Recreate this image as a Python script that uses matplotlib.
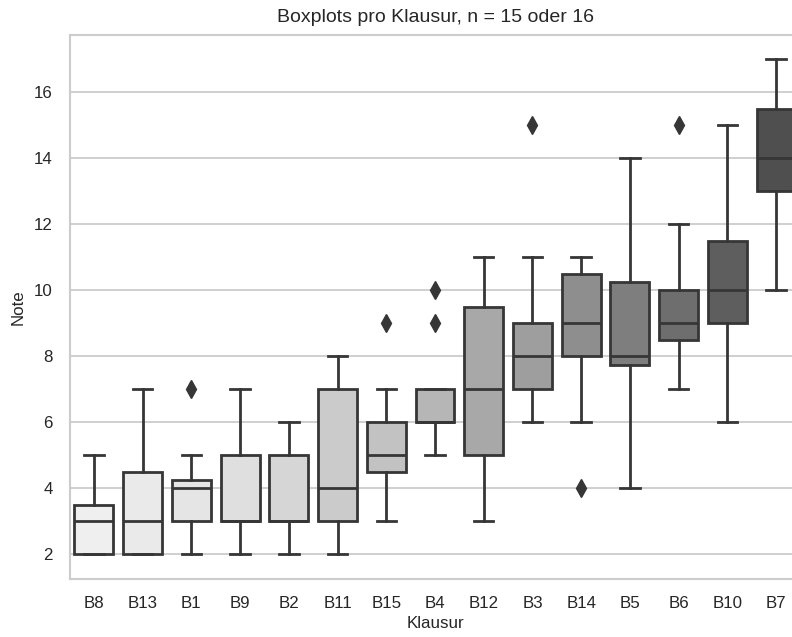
import numpy as np
import matplotlib.pyplot as plt

plt.rcParams['font.family'] = ['Liberation Sans', 'DejaVu Sans']

# Klausuren, sortiert nach Median
klausuren = ["B8", "B13", "B1", "B9", "B2", "B11", "B15", "B4",
             "B12", "B3", "B14", "B5", "B6", "B10", "B7"]
whis_lo = [2, 2, 2, 2, 2, 2, 3, 5, 3, 6, 6, 4, 7, 6, 10]
q1 = [2, 2, 3, 3, 3, 3, 4.5, 6, 5, 7, 8, 7.75, 8.5, 9, 13]
median = [3, 3, 4, 3, 3, 4, 5, 6, 7, 8, 9, 8, 9, 10, 14]
q3 = [3.5, 4.5, 4.25, 5, 5, 7, 6, 7, 9.5, 9, 10.5, 10.25, 10, 11.5, 15.5]
whis_hi = [5, 7, 5, 7, 6, 8, 7, 7, 11, 11, 11, 14, 12, 15, 17]
ausreisser = [[], [], [7], [], [], [], [9], [9, 10],
              [], [15], [4], [], [15], [], []]

farben = ["#efefef", "#eaeaea", "#e5e5e5", "#dfdfdf", "#d6d6d6", "#cbcbcb",
          "#c2c2c2", "#b6b6b6", "#a8a8a8", "#9e9e9e", "#8e8e8e", "#7e7e7e",
          "#6e6e6e", "#5e5e5e", "#4f4f4f"]

stats = []
for i, k in enumerate(klausuren):
    stats.append({"label": k, "whislo": whis_lo[i], "q1": q1[i], "med": median[i],
                  "q3": q3[i], "whishi": whis_hi[i], "fliers": ausreisser[i]})

fig = plt.figure(figsize=(7.92, 6.37), dpi=100)
ax = fig.add_axes([69.5/792, 58/637, 731/792, 544.5/637])

linie = "#363636"
lw = 2.0
bp = ax.bxp(stats, positions=np.arange(len(klausuren)), widths=0.8,
            patch_artist=True, manage_ticks=False,
            boxprops=dict(edgecolor=linie, linewidth=lw),
            medianprops=dict(color=linie, linewidth=lw),
            whiskerprops=dict(color=linie, linewidth=lw),
            capprops=dict(color=linie, linewidth=lw),
            flierprops=dict(marker="d", markersize=9, markerfacecolor=linie,
                            markeredgecolor=linie, linestyle="none"))
for patch, c in zip(bp["boxes"], farben):
    patch.set_facecolor(c)

ax.set_xlim(-0.5, len(klausuren) - 0.5)
ax.set_ylim(1.25, 17.75)
ax.set_xticks(np.arange(len(klausuren)))
ax.set_xticklabels(klausuren)
ax.set_yticks([2, 4, 6, 8, 10, 12, 14, 16])

ax.yaxis.grid(True, color="#cccccc", linewidth=1.3)
ax.xaxis.grid(False)
ax.set_axisbelow(True)
for s in ax.spines.values():
    s.set_color("#cccccc")
    s.set_linewidth(1.5)
ax.tick_params(axis="x", length=0, labelsize=12.2, colors="#262626", pad=12)
ax.tick_params(axis="y", length=0, labelsize=12.2, colors="#262626", pad=12)

ax.set_title("Boxplots pro Klausur, n = 15 oder 16", fontsize=14, color="#262626", pad=9)
ax.set_xlabel("Klausur", fontsize=12.2, color="#262626", labelpad=4)
ax.set_ylabel("Note", fontsize=12.2, color="#262626", labelpad=6)

fig.savefig("out.png", dpi=100)
